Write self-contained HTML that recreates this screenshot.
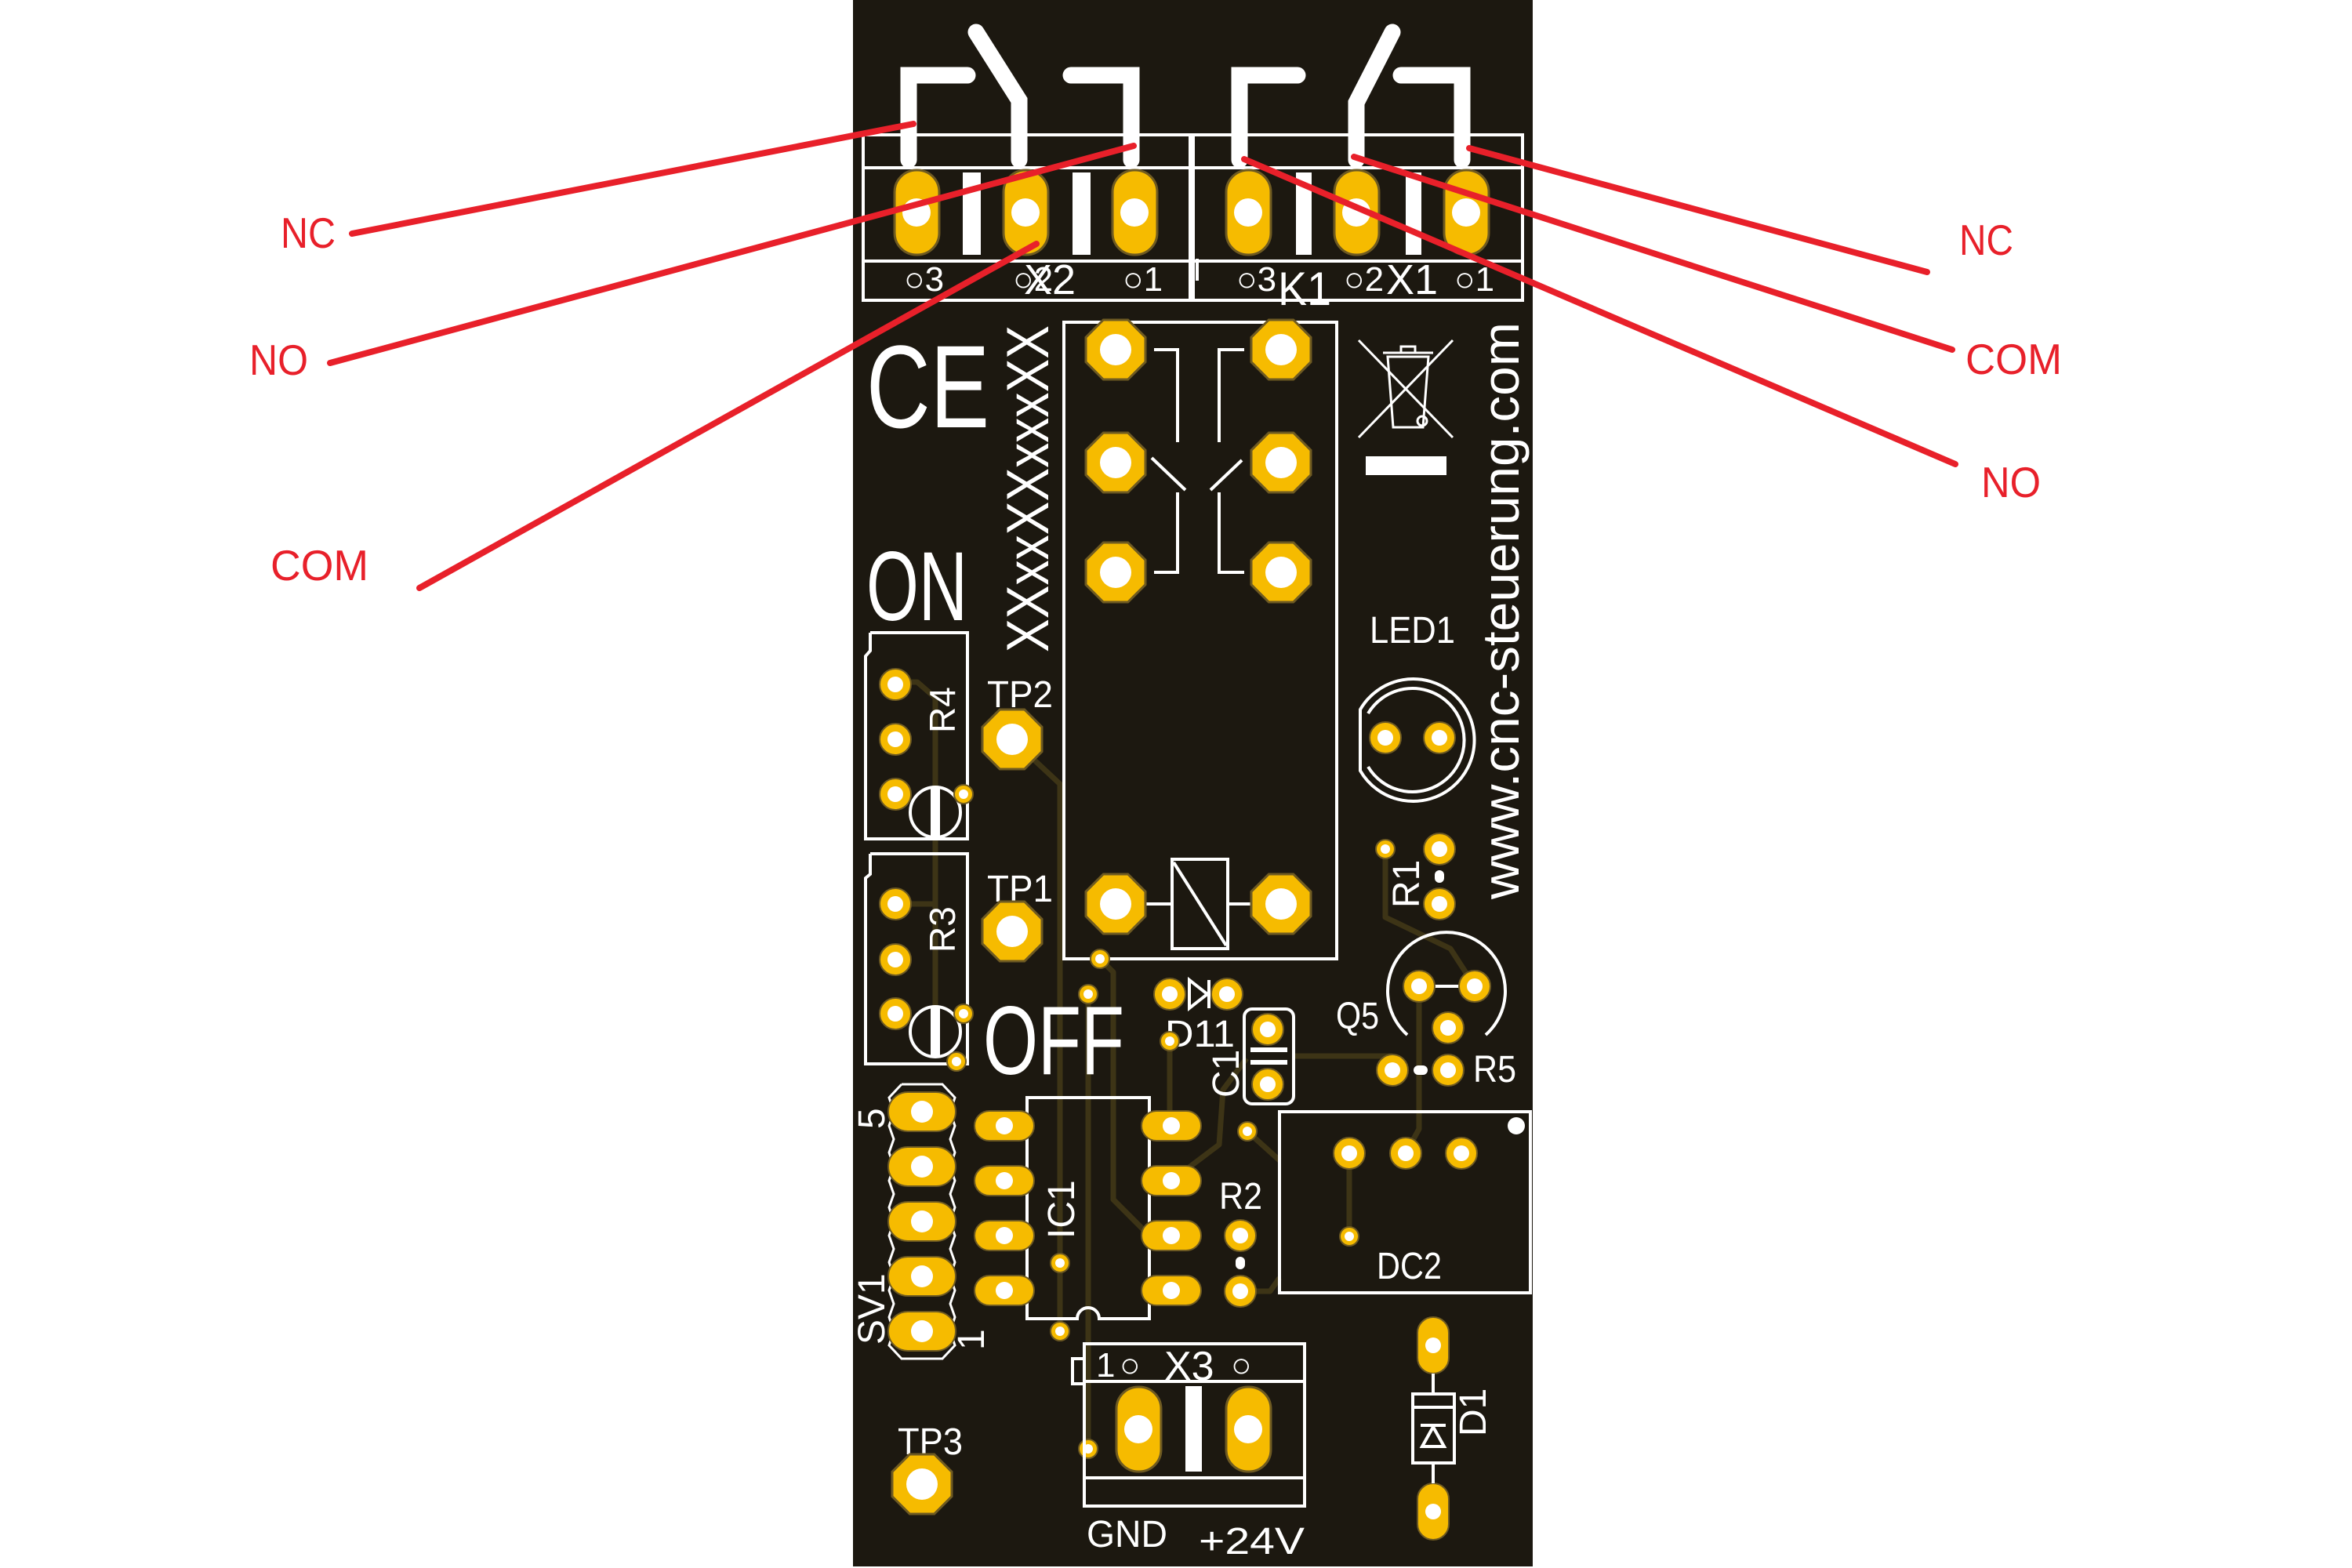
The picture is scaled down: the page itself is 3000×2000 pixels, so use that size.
<!DOCTYPE html>
<html><head><meta charset="utf-8"><style>
html,body{margin:0;padding:0;background:#fff;}
svg{display:block;}
text{font-family:"Liberation Sans",sans-serif;}
</style></head><body>
<svg width="3000" height="2000" viewBox="0 0 3000 2000" xmlns="http://www.w3.org/2000/svg">
<defs>
<g id="oct"><polygon points="-15.7,-38 15.7,-38 38,-15.7 38,15.7 15.7,38 -15.7,38 -38,15.7 -38,-15.7" fill="#f6bb00" stroke="#6e5a22" stroke-width="3"/><circle r="20" fill="#fff"/></g>
<g id="ovl"><rect x="-28" y="-54" width="57" height="108" rx="28" fill="#f6bb00" stroke="#6e5a22" stroke-width="3"/><circle r="18" fill="#fff"/></g>
<g id="ovh"><rect x="-38" y="-19" width="76" height="38" rx="19" fill="#f6bb00" stroke="#6e5a22" stroke-width="2"/><circle r="11" fill="#fff"/></g>
<g id="svp"><rect x="-43" y="-25" width="86" height="50" rx="25" fill="#f6bb00" stroke="#6e5a22" stroke-width="2"/><circle r="14" fill="#fff"/></g>
<g id="rp"><circle r="20" fill="#f6bb00" stroke="#6e5a22" stroke-width="2"/><circle r="10" fill="#fff"/></g>
<g id="via"><circle r="12" fill="#f6bb00" stroke="#6e5a22" stroke-width="2"/><circle r="6" fill="#fff"/></g>
<g id="d1p"><rect x="-20" y="-36" width="40" height="72" rx="20" fill="#f6bb00" stroke="#6e5a22" stroke-width="2"/><circle r="10" fill="#fff"/></g>
</defs>

<rect x="1088" y="0" width="867" height="1998" fill="#1c1810"/>

<g stroke="#3d3416" stroke-width="7" fill="none" stroke-linejoin="round">
<polyline points="1291,943 1352,1000 1352,1698"/>
<polyline points="1388,1268 1388,1848"/>
<polyline points="1403,1223 1420,1240 1420,1530 1466,1576 1494,1576"/>
<polyline points="1492,1328 1492,1436"/>
<polyline points="1494,1506 1555,1460 1560,1390 1590,1350"/>
<polyline points="1650,1347 1776,1347"/>
<polyline points="1810,1258 1810,1440 1793,1471"/>
<polyline points="1767,1083 1767,1170 1850,1210 1881,1258"/>
<polyline points="1142,870 1170,870 1193,890 1193,1330"/>
<polyline points="1142,1153 1193,1153"/>
<polyline points="1582,1647 1620,1647 1632,1630"/>
<polyline points="1591,1443 1632,1480"/>
<polyline points="1721,1471 1721,1577"/>
<polyline points="1281,1576 1310,1560"/>
</g>

<g stroke="#fff" stroke-width="4" fill="none">
<rect x="1101" y="172" width="417" height="211"/>
<line x1="1101" y1="214" x2="1518" y2="214"/>
<line x1="1101" y1="333" x2="1518" y2="333"/>
<rect x="1522" y="172" width="420" height="211"/>
<line x1="1522" y1="214" x2="1942" y2="214"/>
<line x1="1522" y1="333" x2="1942" y2="333"/>
<line x1="1527" y1="330" x2="1527" y2="358"/>
</g>

<g stroke="#fff" stroke-width="21" fill="none" stroke-linecap="round" stroke-linejoin="miter">
<polyline points="1234,96 1159,96 1159,204"/>
<polyline points="1245,41 1300,128 1300,204"/>
<polyline points="1366,96 1443,96 1443,204"/>
<polyline points="1655,96 1581,96 1581,204"/>
<polyline points="1776,41 1730,131 1730,204"/>
<polyline points="1787,96 1865,96 1865,204"/>
</g>
<g fill="#fff">
<rect x="1228" y="220" width="23" height="105"/>
<rect x="1368" y="220" width="23" height="105"/>
<rect x="1653" y="220" width="20" height="105"/>
<rect x="1793" y="220" width="20" height="105"/>
</g>
<use href="#ovl" x="1169" y="271"/><use href="#ovl" x="1308" y="271"/><use href="#ovl" x="1447" y="271"/>
<use href="#ovl" x="1592" y="271"/><use href="#ovl" x="1730" y="271"/><use href="#ovl" x="1870" y="271"/>

<g fill="#fff" font-size="44">
<text x="1153" y="371">○3</text>
<text x="1292" y="371">○2</text>
<text x="1432" y="371">○1</text>
<text x="1577" y="371">○3</text>
<text x="1714" y="371">○2</text>
<text x="1855" y="371">○1</text>
<text x="1306" y="375" font-size="54">X2</text>
<text x="1768" y="375" font-size="54">X1</text>
<text x="1630" y="389" font-size="60" textLength="68" lengthAdjust="spacingAndGlyphs">K1</text>
</g>

<rect x="1357" y="411" width="348" height="812" fill="none" stroke="#fff" stroke-width="4"/>
<g stroke="#fff" stroke-width="4" fill="none">
<polyline points="1472,446 1502,446 1502,564"/>
<line x1="1469" y1="584" x2="1512" y2="625"/>
<polyline points="1502,628 1502,730 1472,730"/>
<polyline points="1587,446 1555,446 1555,564"/>
<line x1="1584" y1="587" x2="1544" y2="625"/>
<polyline points="1555,628 1555,730 1587,730"/>
<rect x="1495" y="1096" width="71" height="114"/>
<line x1="1497" y1="1100" x2="1564" y2="1206"/>
<line x1="1461" y1="1153" x2="1495" y2="1153"/>
<line x1="1566" y1="1153" x2="1598" y2="1153"/>
</g>
<use href="#oct" x="1423" y="446"/><use href="#oct" x="1634" y="446"/>
<use href="#oct" x="1423" y="590"/><use href="#oct" x="1634" y="590"/>
<use href="#oct" x="1423" y="730"/><use href="#oct" x="1634" y="730"/>
<use href="#oct" x="1423" y="1153"/><use href="#oct" x="1634" y="1153"/>

<text x="1105" y="545" fill="#fff" font-size="150" textLength="157" lengthAdjust="spacingAndGlyphs">CE</text>
<text transform="translate(1337,832) rotate(-90)" fill="#fff" font-size="76" textLength="417" lengthAdjust="spacingAndGlyphs">XXxxXXxxxXX</text>
<text transform="translate(1937,1147) rotate(-90)" fill="#fff" font-size="66" textLength="736" lengthAdjust="spacingAndGlyphs">www.cnc-steuerung.com</text>
<g stroke="#fff" stroke-width="3" fill="none">
<line x1="1733" y1="434" x2="1853" y2="558"/>
<line x1="1853" y1="434" x2="1733" y2="558"/>
<polygon points="1770,455 1822,455 1815,545 1777,545"/>
<line x1="1764" y1="450" x2="1828" y2="450"/>
<rect x="1787" y="442" width="18" height="8"/>
<circle cx="1814" cy="537" r="6"/>
</g>
<rect x="1742" y="582" width="103" height="24" fill="#fff"/>

<text x="1105" y="791" fill="#fff" font-size="125" textLength="129" lengthAdjust="spacingAndGlyphs">ON</text>
<text x="1254" y="1370" fill="#fff" font-size="124" textLength="180" lengthAdjust="spacingAndGlyphs">OFF</text>

<g stroke="#fff" stroke-width="4" fill="none">
<polyline points="1110,807 1234,807 1234,1070 1104,1070 1104,837 1110,830 1110,807"/>
<polyline points="1110,1089 1234,1089 1234,1357 1104,1357 1104,1120 1110,1115 1110,1089"/>
<circle cx="1193" cy="1036" r="32"/>
<circle cx="1193" cy="1316" r="32"/>
</g>
<rect x="1187" y="1004" width="12" height="64" fill="#fff"/>
<rect x="1187" y="1284" width="12" height="64" fill="#fff"/>
<use href="#rp" x="1142" y="873"/><use href="#rp" x="1142" y="943"/><use href="#rp" x="1142" y="1013"/>
<use href="#rp" x="1142" y="1153"/><use href="#rp" x="1142" y="1224"/><use href="#rp" x="1142" y="1293"/>
<g fill="#fff" font-size="46">
<text transform="translate(1218,935) rotate(-90)">R4</text>
<text transform="translate(1218,1215) rotate(-90)">R3</text>
</g>

<g fill="#fff" font-size="48">
<text x="1259" y="902" textLength="84" lengthAdjust="spacingAndGlyphs">TP2</text>
<text x="1259" y="1150" textLength="84" lengthAdjust="spacingAndGlyphs">TP1</text>
<text x="1145" y="1855" textLength="83" lengthAdjust="spacingAndGlyphs">TP3</text>
<text x="1747" y="820" textLength="109" lengthAdjust="spacingAndGlyphs">LED1</text>
<text x="1486" y="1335" textLength="89" lengthAdjust="spacingAndGlyphs">D11</text>
<text x="1704" y="1312" textLength="55" lengthAdjust="spacingAndGlyphs">Q5</text>
<text x="1879" y="1380" textLength="55" lengthAdjust="spacingAndGlyphs">R5</text>
<text x="1555" y="1542" textLength="55" lengthAdjust="spacingAndGlyphs">R2</text>
<text x="1756" y="1631" textLength="83" lengthAdjust="spacingAndGlyphs">DC2</text>
<text x="1386" y="1973" textLength="103" lengthAdjust="spacingAndGlyphs">GND</text>
<text x="1529" y="1982" textLength="135" lengthAdjust="spacingAndGlyphs">+24V</text>
<text transform="translate(1810,1158) rotate(-90)">R1</text>
<text transform="translate(1580,1400) rotate(-90)">C1</text>
<text transform="translate(1370,1580) rotate(-90)">IC1</text>
<text transform="translate(1895,1832) rotate(-90)">D1</text>
<text transform="translate(1128,1715) rotate(-90)">SV1</text>
<text transform="translate(1128,1440) rotate(-90)">5</text>
<text transform="translate(1255,1722) rotate(-90)">1</text>
</g>
<use href="#oct" x="1291" y="943"/><use href="#oct" x="1291" y="1188"/><use href="#oct" x="1176" y="1893"/>

<g stroke="#fff" stroke-width="4" fill="none">
<path d="M1735,905 A78,78 0 1 1 1735,983 Z"/>
<path d="M1745,910 A66,66 0 1 1 1745,978"/>
</g>
<use href="#rp" x="1767" y="941"/><use href="#rp" x="1836" y="941"/>

<use href="#via" x="1767" y="1083"/>
<use href="#rp" x="1836" y="1083"/><use href="#rp" x="1836" y="1153"/>
<rect x="1830" y="1110" width="12" height="16" rx="6" fill="#fff"/>

<path d="M1795,1320 A75,75 0 1 1 1895,1320" stroke="#fff" stroke-width="4" fill="none"/>
<line x1="1830" y1="1258" x2="1861" y2="1258" stroke="#fff" stroke-width="4"/>
<use href="#rp" x="1810" y="1258"/><use href="#rp" x="1881" y="1258"/><use href="#rp" x="1847" y="1311"/>
<use href="#rp" x="1776" y="1365"/><use href="#rp" x="1847" y="1365"/>
<rect x="1803" y="1359" width="18" height="12" rx="6" fill="#fff"/>

<use href="#rp" x="1492" y="1268"/><use href="#rp" x="1565" y="1268"/>
<g stroke="#fff" stroke-width="4" fill="none"><polygon points="1517,1250 1540,1268 1517,1286"/><line x1="1542" y1="1250" x2="1542" y2="1286"/></g>

<rect x="1587" y="1287" width="63" height="121" rx="10" fill="none" stroke="#fff" stroke-width="4"/>
<rect x="1595" y="1336" width="47" height="6" fill="#fff"/><rect x="1595" y="1352" width="47" height="6" fill="#fff"/>
<use href="#rp" x="1617" y="1313"/><use href="#rp" x="1617" y="1383"/>

<use href="#via" x="1229" y="1013"/><use href="#via" x="1229" y="1293"/><use href="#via" x="1220" y="1354"/>
<use href="#via" x="1403" y="1223"/><use href="#via" x="1388" y="1268"/><use href="#via" x="1492" y="1328"/>
<use href="#via" x="1591" y="1443"/><use href="#via" x="1352" y="1611"/><use href="#via" x="1352" y="1698"/>
<use href="#via" x="1721" y="1577"/><use href="#via" x="1388" y="1848"/>

<rect x="1632" y="1418" width="320" height="231" fill="none" stroke="#fff" stroke-width="4"/>
<circle cx="1934" cy="1436" r="11" fill="#fff"/>
<use href="#rp" x="1721" y="1471"/><use href="#rp" x="1793" y="1471"/><use href="#rp" x="1864" y="1471"/>

<path d="M1310,1400 L1466,1400 L1466,1682 L1402,1682 A14,14 0 0 0 1374,1682 L1310,1682 Z" fill="none" stroke="#fff" stroke-width="4"/>
<use href="#ovh" x="1281" y="1436"/><use href="#ovh" x="1281" y="1506"/><use href="#ovh" x="1281" y="1576"/><use href="#ovh" x="1281" y="1646"/>
<use href="#ovh" x="1494" y="1436"/><use href="#ovh" x="1494" y="1506"/><use href="#ovh" x="1494" y="1576"/><use href="#ovh" x="1494" y="1646"/>

<use href="#rp" x="1582" y="1576"/><use href="#rp" x="1582" y="1647"/>
<rect x="1576" y="1603" width="12" height="16" rx="6" fill="#fff"/>

<polyline points="1150,1383 1202,1383 1218,1400 1212,1418 1218,1436 1212,1453 1218,1470 1212,1488 1218,1506 1212,1523 1218,1540 1212,1558 1218,1576 1212,1593 1218,1610 1212,1628 1218,1646 1212,1663 1218,1680 1212,1698 1218,1716 1202,1733 1150,1733 1134,1716 1140,1698 1134,1680 1140,1663 1134,1646 1140,1628 1134,1610 1140,1593 1134,1576 1140,1558 1134,1540 1140,1523 1134,1506 1140,1488 1134,1470 1140,1453 1134,1436 1140,1418 1134,1400 1150,1383" fill="none" stroke="#fff" stroke-width="3"/>
<use href="#svp" x="1176" y="1418"/><use href="#svp" x="1176" y="1488"/><use href="#svp" x="1176" y="1558"/><use href="#svp" x="1176" y="1628"/><use href="#svp" x="1176" y="1698"/>

<g stroke="#fff" stroke-width="4" fill="none">
<rect x="1383" y="1714" width="281" height="207"/>
<line x1="1383" y1="1762" x2="1664" y2="1762"/>
<line x1="1383" y1="1885" x2="1664" y2="1885"/>
<polyline points="1383,1733 1368,1733 1368,1765 1383,1765"/>
</g>
<rect x="1512" y="1768" width="21" height="109" fill="#fff"/>
<use href="#ovl" x="1452" y="1823"/><use href="#ovl" x="1592" y="1823"/>
<g fill="#fff" font-size="44">
<text x="1398" y="1756">1</text>
<text x="1428" y="1756">○</text>
<text x="1485" y="1760" font-size="52">X3</text>
<text x="1570" y="1756">○</text>
</g>

<use href="#d1p" x="1828" y="1716"/><use href="#d1p" x="1828" y="1928"/>
<g stroke="#fff" stroke-width="4" fill="none">
<rect x="1802" y="1778" width="53" height="88"/>
<line x1="1828" y1="1752" x2="1828" y2="1778"/><line x1="1828" y1="1866" x2="1828" y2="1892"/>
<line x1="1802" y1="1795" x2="1855" y2="1795"/>
<polygon points="1814,1845 1842,1845 1828,1820"/>
<line x1="1812" y1="1818" x2="1844" y2="1818"/>
</g>

<g stroke="#e8202a" stroke-width="8" stroke-linecap="round" fill="none">
<line x1="449" y1="298" x2="1165" y2="158"/>
<line x1="421" y1="463" x2="1446" y2="186"/>
<line x1="535" y1="750" x2="1322" y2="311"/>
<line x1="2458" y1="347" x2="1874" y2="189"/>
<line x1="2490" y1="446" x2="1727" y2="200"/>
<line x1="2494" y1="592" x2="1587" y2="203"/>
</g>
<g fill="#e8202a" font-size="55">
<text x="358" y="316" textLength="70" lengthAdjust="spacingAndGlyphs">NC</text>
<text x="318" y="478" textLength="75" lengthAdjust="spacingAndGlyphs">NO</text>
<text x="345" y="740" textLength="125" lengthAdjust="spacingAndGlyphs">COM</text>
<text x="2499" y="325" textLength="69" lengthAdjust="spacingAndGlyphs">NC</text>
<text x="2507" y="477" textLength="123" lengthAdjust="spacingAndGlyphs">COM</text>
<text x="2527" y="634" textLength="76" lengthAdjust="spacingAndGlyphs">NO</text>
</g>
</svg>
</body></html>
